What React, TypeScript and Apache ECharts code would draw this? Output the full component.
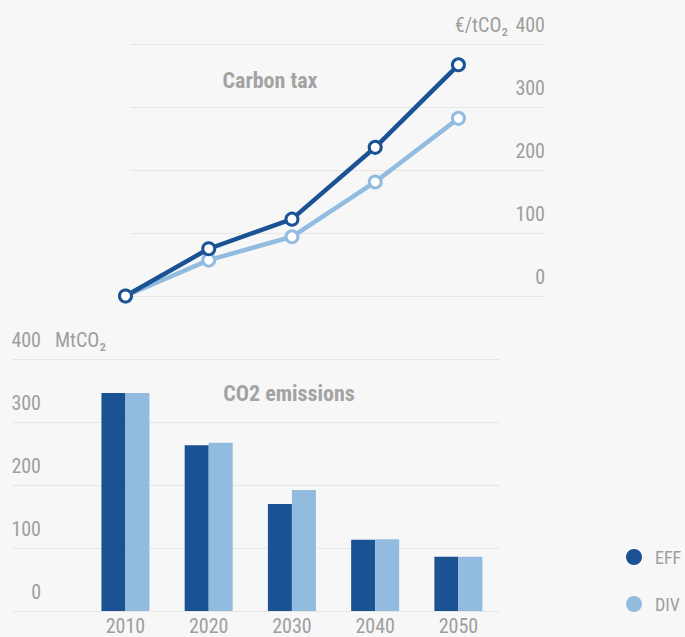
import React, { useEffect, useRef } from "react";
import * as echarts from "echarts";

const years = [2010, 2020, 2030, 2040, 2050];
const taxEFF = [0, 75, 122, 236, 367];
const taxDIV = [0, 57, 94, 181, 282];
const emisEFF = [346, 263, 170, 113, 86];
const emisDIV = [346, 267, 192, 114, 86];
const seriesNames = ["EFF", "DIV"];
const taxUnit = "€/tCO₂";
const emisUnit = "MtCO₂";
const titles = ["Carbon tax", "CO2 emissions"];

const DARK = "#1a5294";
const LIGHT = "#92bbe0";
const GRAY = "#9e9e9e";
const GRID = "#e6e6e6";
const FONT = "'Liberation Sans Narrow', 'Roboto Condensed', 'DejaVu Sans Condensed', Roboto, sans-serif";

export default function App() {
  const ref = useRef<HTMLDivElement>(null);
  useEffect(() => {
    const chart = echarts.init(ref.current!, null, { renderer: "svg" });
    const pair = (vals: number[]) => years.map((y, i) => [y, vals[i]]);
    const yLabel = {
      inside: true,
      color: GRAY,
      fontSize: 20,
      fontFamily: FONT,
      verticalAlign: "bottom",
      showMinLabel: true,
      showMaxLabel: true,
      hideOverlap: false,
      formatter: (v: number) => `{a|${v}}\n{b| }`,
      rich: {
        a: { fontSize: 20, lineHeight: 20, color: GRAY, fontFamily: FONT },
        b: { fontSize: 8, lineHeight: 9 },
      },
    };
    chart.setOption({
      animation: false,
      backgroundColor: "#f7f7f7",
      textStyle: { fontFamily: FONT },
      title: [
        {
          text: titles[0],
          left: 265,
          top: 64,
          textAlign: "center",
          textStyle: { color: "#a3a3a3", fontSize: 22, fontWeight: "bold", fontFamily: FONT },
        },
        {
          text: titles[1],
          left: 284,
          top: 377,
          textAlign: "center",
          textStyle: { color: "#a3a3a3", fontSize: 22, fontWeight: "bold", fontFamily: FONT },
        },
      ],
      legend: {
        orient: "vertical",
        left: 621,
        top: 543,
        itemWidth: 24,
        itemHeight: 16,
        itemGap: 29,
        icon: "circle",
        textStyle: { color: GRAY, fontSize: 18, fontFamily: FONT, padding: [0, 0, 0, 4] },
        data: [
          { name: seriesNames[0], itemStyle: { color: DARK, borderWidth: 0 } },
          { name: seriesNames[1], itemStyle: { color: LIGHT, borderWidth: 0 } },
        ],
      },
      grid: [
        { left: 130, right: 140, top: 44, height: 252, outerBoundsMode: "none" },
        { left: 12, right: 185, top: 359, height: 252, outerBoundsMode: "none" },
      ],
      xAxis: [
        {
          gridIndex: 0,
          type: "value",
          min: 2010.54,
          max: 2060.4,
          show: false,
          splitLine: { show: false },
        },
        {
          gridIndex: 1,
          type: "value",
          min: 1996.37,
          max: 2055,
          axisLine: { show: false },
          axisTick: { show: false },
          splitLine: { show: false },
          axisLabel: {
            customValues: years,
            formatter: (v: number) => String(v),
            color: GRAY,
            fontSize: 20,
            fontFamily: FONT,
            margin: 5,
          },
        },
      ],
      yAxis: [
        {
          gridIndex: 0,
          type: "value",
          position: "right",
          min: 0,
          max: 400,
          interval: 100,
          axisLine: { show: false },
          axisTick: { show: false },
          splitLine: { lineStyle: { color: GRID, width: 1 } },
          axisLabel: { ...yLabel, margin: 0 },
          name: taxUnit,
          nameLocation: "end",
          nameGap: 19,
          nameTextStyle: {
            color: GRAY,
            fontSize: 20,
            fontFamily: FONT,
            align: "right",
            verticalAlign: "middle",
            padding: [0, 37, 0, 0],
          },
        },
        {
          gridIndex: 1,
          type: "value",
          position: "left",
          min: 0,
          max: 400,
          interval: 100,
          axisLine: { show: false },
          axisTick: { show: false },
          splitLine: { lineStyle: { color: GRID, width: 1 } },
          axisLabel: { ...yLabel, align: "right", margin: 29 },
          name: emisUnit,
          nameLocation: "end",
          nameGap: 19,
          nameTextStyle: {
            color: GRAY,
            fontSize: 20,
            fontFamily: FONT,
            align: "left",
            verticalAlign: "middle",
            padding: [0, 0, 0, 43],
          },
        },
      ],
      series: [
        {
          name: seriesNames[0],
          type: "bar",
          xAxisIndex: 1,
          yAxisIndex: 1,
          barWidth: 24,
          barGap: "0%",
          itemStyle: { color: DARK },
          data: pair(emisEFF),
        },
        {
          name: seriesNames[1],
          type: "bar",
          xAxisIndex: 1,
          yAxisIndex: 1,
          barWidth: 24,
          barGap: "0%",
          itemStyle: { color: LIGHT },
          data: pair(emisDIV),
        },
        {
          name: seriesNames[1],
          type: "line",
          xAxisIndex: 0,
          yAxisIndex: 0,
          clip: false,
          symbol: "circle",
          symbolSize: 12,
          lineStyle: { color: LIGHT, width: 4.5 },
          itemStyle: { color: "#ffffff", borderColor: LIGHT, borderWidth: 3 },
          data: pair(taxDIV),
        },
        {
          name: seriesNames[0],
          type: "line",
          xAxisIndex: 0,
          yAxisIndex: 0,
          clip: false,
          symbol: "circle",
          symbolSize: 12,
          lineStyle: { color: DARK, width: 4.5 },
          itemStyle: { color: "#ffffff", borderColor: DARK, borderWidth: 3 },
          data: pair(taxEFF),
        },
      ],
    });
    return () => chart.dispose();
  }, []);
  return (
    <div
      ref={ref}
      style={{ position: "absolute", left: 0, top: 0, width: 685, height: 637 }}
    />
  );
}
